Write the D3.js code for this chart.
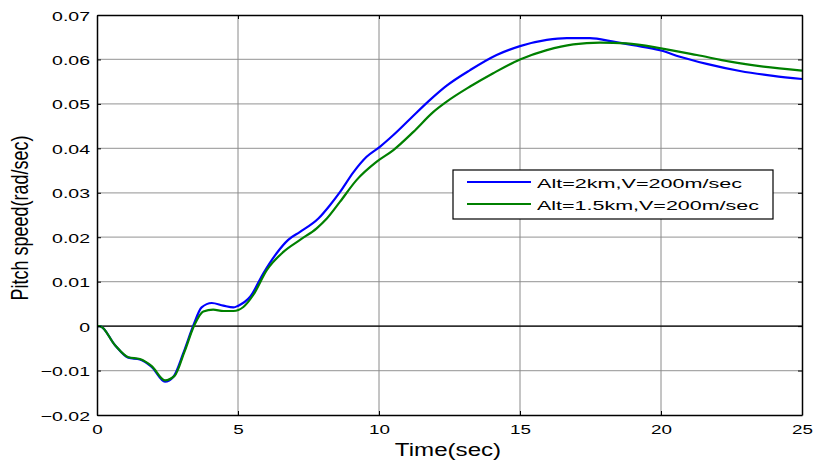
<!DOCTYPE html>
<html lang="en">
  <head>
    <meta charset="utf-8" />
    <title>Pitch speed</title>
    <script src="https://d3js.org/d3.v7.min.js"></script>
    <style>
      body { margin: 0; background: white; }
      text { font-family: "Liberation Sans", Arial, sans-serif; fill: black; }
      .grid-h line { stroke: #a8a8a8; stroke-width: 1.3; }
      .grid-v line { stroke: #8a8a8a; stroke-width: 1; }
      .axis path { stroke: black; stroke-width: 1.5; }
      .axis line { stroke: black; }
      .curve { fill: none; stroke-width: 2.2; }
    </style>
  </head>
  <body>
    <svg width="814" height="464"></svg>
    <script>
      const timeAlt2 = [0, 0.1, 0.64, 1.11, 1.52, 1.94, 2.41, 2.71, 3.06, 3.42, 3.71, 4.07, 4.48, 4.84, 5.01, 5.43, 5.9, 6.37, 6.78, 7.2, 7.85, 8.26, 8.62, 9.09, 9.56, 10.04, 10.51, 11.1, 11.81, 12.4, 13.23, 14.17, 15.0, 15.95, 16.66, 17.48, 18.31, 19.02, 20.0, 20.67, 21.62, 22.8, 23.98, 25];
      const pitchAlt2 = [0, 0, -0.0043, -0.0071, -0.0075, -0.0092, -0.0125, -0.0114, -0.0061, 0.0002, 0.0042, 0.0052, 0.0046, 0.0042, 0.0046, 0.0066, 0.0119, 0.0164, 0.0194, 0.0212, 0.0242, 0.0272, 0.0302, 0.0346, 0.0381, 0.0404, 0.043, 0.0466, 0.0509, 0.0541, 0.0576, 0.061, 0.063, 0.0644, 0.0648, 0.0648, 0.064, 0.0632, 0.062, 0.0606, 0.059, 0.0574, 0.0563, 0.0556];

      const timeAlt15 = [0, 0.1, 0.64, 1.11, 1.52, 1.94, 2.41, 2.75, 3.1, 3.45, 3.77, 4.12, 4.48, 4.84, 5.19, 5.54, 6.02, 6.61, 7.2, 7.79, 8.15, 8.62, 9.21, 9.92, 10.51, 11.22, 11.93, 12.4, 13.23, 14.05, 15.0, 15.95, 16.89, 17.84, 18.78, 20.0, 21.27, 22.45, 23.63, 25];
      const pitchAlt15 = [0, 0, -0.0043, -0.007, -0.0074, -0.009, -0.0122, -0.0112, -0.0058, 0.0002, 0.0033, 0.0037, 0.0034, 0.0034, 0.0043, 0.007, 0.0126, 0.0167, 0.0194, 0.022, 0.0242, 0.028, 0.0329, 0.037, 0.0396, 0.0437, 0.0482, 0.0505, 0.0539, 0.0569, 0.06, 0.0621, 0.0634, 0.0638, 0.0636, 0.0625, 0.061, 0.0595, 0.0584, 0.0575];

      const xTicks = [0, 5, 10, 15, 20, 25];
      const yTicks = [-0.02, -0.01, 0, 0.01, 0.02, 0.03, 0.04, 0.05, 0.06, 0.07];
      const seriesNames = ["Alt=2km,V=200m/sec", "Alt=1.5km,V=200m/sec"];
      const seriesColors = ["#0000ff", "#008000"];

      const svg = d3.select("svg"),
        margin = { top: 15, right: 12, bottom: 49, left: 97 },
        width = +svg.attr("width") - margin.left - margin.right,
        height = +svg.attr("height") - margin.top - margin.bottom;

      const g = svg.append("g")
        .attr("transform", "translate(" + margin.left + "," + margin.top + ")");

      const x = d3.scaleLinear().domain([0, 25]).range([0, width]);
      const y = d3.scaleLinear().domain([-0.02, 0.07]).range([height, 0]);

      // grid
      g.append("g").attr("class", "grid-h")
        .selectAll("line").data(yTicks.slice(1, -1)).join("line")
        .attr("x1", 0).attr("x2", width)
        .attr("y1", d => y(d)).attr("y2", d => y(d));
      g.append("g").attr("class", "grid-v")
        .selectAll("line").data(xTicks.slice(1, -1)).join("line")
        .attr("y1", 0).attr("y2", height)
        .attr("x1", d => x(d)).attr("x2", d => x(d));

      // zero line
      g.append("line")
        .attr("x1", 0).attr("x2", width)
        .attr("y1", y(0)).attr("y2", y(0))
        .attr("stroke", "black").attr("stroke-width", 1.2);

      // curves
      const line = d3.line().x(d => x(d[0])).y(d => y(d[1])).curve(d3.curveMonotoneX);
      const series = [
        d3.zip(timeAlt2, pitchAlt2),
        d3.zip(timeAlt15, pitchAlt15)
      ];
      g.selectAll(".curve").data(series).join("path")
        .attr("class", "curve")
        .attr("stroke", (d, i) => seriesColors[i])
        .attr("d", line);

      // axes (ticks point inward)
      const xAxis = g.append("g").attr("class", "axis")
        .attr("transform", "translate(0," + height + ")")
        .call(d3.axisBottom(x).tickValues(xTicks).tickSize(-4).tickSizeOuter(0));
      xAxis.selectAll("text")
        .attr("y", 0).attr("dy", 0)
        .attr("font-size", 13)
        .attr("transform", "translate(0,18.5) scale(1.45,1)");

      const yAxis = g.append("g").attr("class", "axis")
        .call(d3.axisLeft(y).tickValues(yTicks).tickSize(-4).tickSizeOuter(0)
          .tickFormat(d => d === 0 ? "0" : d3.format(".2f")(d)));
      yAxis.selectAll("text")
        .attr("x", 0).attr("dy", 0)
        .attr("font-size", 13)
        .attr("transform", "translate(-7,5) scale(1.5,1)");

      g.append("g").attr("class", "axis")
        .call(d3.axisTop(x).tickValues(xTicks).tickSize(-4).tickSizeOuter(0).tickFormat(""));
      g.append("g").attr("class", "axis")
        .attr("transform", "translate(" + width + ",0)")
        .call(d3.axisRight(y).tickValues(yTicks).tickSize(-4).tickSizeOuter(0).tickFormat(""));

      // axis labels
      svg.append("text")
        .attr("font-size", 19)
        .attr("text-anchor", "middle")
        .attr("transform", "translate(448,456) scale(1.27,1)")
        .text("Time(sec)");

      svg.append("text")
        .attr("font-size", 18)
        .attr("text-anchor", "middle")
        .attr("transform", "translate(28,218) scale(1.3,1) rotate(-90)")
        .text("Pitch speed(rad/sec)");

      // legend
      const legend = svg.append("g").attr("transform", "translate(453,170)");
      legend.append("rect")
        .attr("width", 320).attr("height", 49)
        .attr("fill", "white").attr("stroke", "black").attr("stroke-width", 1.2);
      const widths = [205, 222];
      const item = legend.selectAll(".item").data(seriesNames).join("g")
        .attr("class", "item")
        .attr("transform", (d, i) => "translate(0," + (12 + i * 22) + ")");
      item.append("line")
        .attr("x1", 14).attr("x2", 78)
        .attr("stroke", (d, i) => seriesColors[i]).attr("stroke-width", 2.2);
      item.append("text")
        .attr("x", 84).attr("y", 6)
        .attr("font-size", 13.5)
        .attr("textLength", (d, i) => widths[i])
        .attr("lengthAdjust", "spacingAndGlyphs")
        .text(d => d);
    </script>
  </body>
</html>
